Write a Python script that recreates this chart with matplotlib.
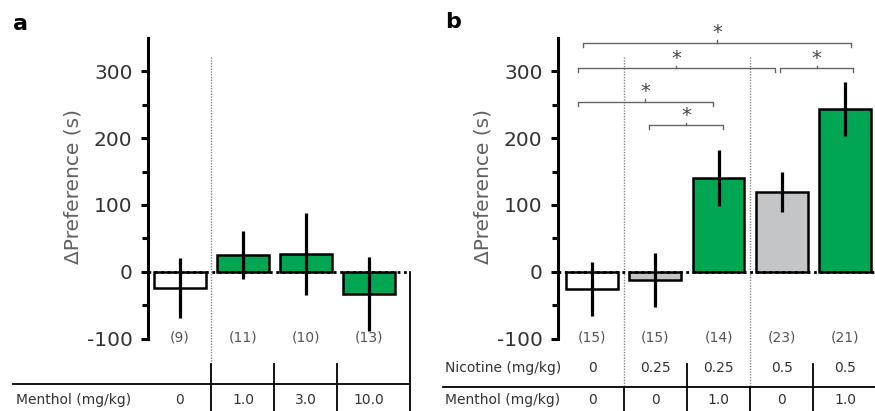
import matplotlib
matplotlib.use("Agg")
import matplotlib.pyplot as plt

plt.rcParams["axes.unicode_minus"] = False

# ---- data ----
a_doses = ["0", "1.0", "3.0", "10.0"]
a_means = [-24, 25, 27, -33]
a_sem = [45, 36, 61, 55]
a_n = ["(9)", "(11)", "(10)", "(13)"]
a_colors = ["white", "#00a651", "#00a651", "#00a651"]

b_nicotine = ["0", "0.25", "0.25", "0.5", "0.5"]
b_menthol = ["0", "0", "1.0", "0", "1.0"]
b_means = [-25, -12, 140, 119, 243]
b_sem = [40, 40, 42, 30, 40]
b_n = ["(15)", "(15)", "(14)", "(23)", "(21)"]
b_colors = ["white", "#c4c5c7", "#00a651", "#c4c5c7", "#00a651"]

# significance brackets: (left x, right x, height)
b_brackets = [(-0.14, 4.09, 342), (-0.22, 2.89, 304), (2.97, 4.13, 304),
              (-0.22, 1.91, 254), (0.90, 2.07, 219)]

W, H = 875, 411
fig = plt.figure(figsize=(W / 100, H / 100), dpi=100)
YLIM = (-207.5, 406)
TXT = "#333333"


def style_axis(ax, spine_x):
    ax.set_ylim(*YLIM)
    for s in ["top", "right", "bottom"]:
        ax.spines[s].set_visible(False)
    ax.spines["left"].set_position(("data", spine_x))
    ax.spines["left"].set_bounds(-100, 350)
    ax.spines["left"].set_linewidth(2.2)
    ax.set_xticks([])
    ax.set_yticks([-100, 0, 100, 200, 300])
    ax.set_yticks([-50, 50, 150, 250], minor=True)
    ax.tick_params(axis="y", which="major", length=5, width=2.2, pad=6,
                   labelsize=14.5, labelcolor=TXT)
    ax.tick_params(axis="y", which="minor", length=4, width=2.2)
    ax.patch.set_alpha(0)


def draw_bars(ax, means, sem, colors):
    x = range(len(means))
    ax.bar(x, means, width=0.82, color=colors, edgecolor="black",
           linewidth=1.8, zorder=2)
    ax.errorbar(x, means, yerr=sem, fmt="none", ecolor="black",
                elinewidth=2.3, capsize=0, zorder=4)


# ---------------- panel a ----------------
ax = fig.add_axes([0, 0, 440 / W, 1])
ax.set_xlim(-2.857, 4.127)
style_axis(ax, -0.51)
draw_bars(ax, a_means, a_sem, a_colors)
ax.plot([-0.51, 3.65], [0, 0], color="black", lw=2, ls=(0, (1, 1.3)), zorder=3)
ax.plot([0.5, 0.5], [321, -137], color="#888888", lw=1, ls=(0, (1, 1)))
ax.plot([0.5, 0.5], [-137, -207.5], color="black", lw=1.3)
for xv in [1.5, 2.5]:
    ax.plot([xv, xv], [-137, -207.5], color="black", lw=1.3)
ax.plot([3.65, 3.65], [0, -207.5], color="black", lw=1.3)
ax.plot([-2.65, 3.65], [-167, -167], color="black", lw=1.3)
for i, lab in enumerate(a_n):
    ax.text(i, -98, lab, ha="center", va="center", fontsize=10, color="#555555")
ax.text(-2.60, -191, "Menthol (mg/kg)", ha="left", va="center",
        fontsize=10, color=TXT)
for i, d in enumerate(a_doses):
    ax.text(i, -191, d, ha="center", va="center", fontsize=10, color=TXT)
ax.text(-1.70, 127, "\u0394Preference (s)", rotation=90, ha="center",
        va="center", fontsize=14.5, color="#606060")

# ---------------- panel b ----------------
bx = fig.add_axes([440 / W, 0, 435 / W, 1])
bx.set_xlim(-2.403, 4.474)
style_axis(bx, -0.54)
draw_bars(bx, b_means, b_sem, b_colors)
bx.plot([-0.54, 4.474], [0, 0], color="black", lw=2, ls=(0, (1, 1.3)), zorder=3)
for xv in [0.5, 2.5]:
    bx.plot([xv, xv], [321, -172], color="#888888", lw=1, ls=(0, (1, 1)))
    bx.plot([xv, xv], [-172, -207.5], color="black", lw=1.3)
for xv in [1.5, 3.5]:
    bx.plot([xv, xv], [-137, -207.5], color="black", lw=1.3)
bx.plot([-2.35, 4.474], [-172, -172], color="black", lw=1.3)
for i, lab in enumerate(b_n):
    bx.text(i, -98, lab, ha="center", va="center", fontsize=10, color="#555555")
bx.text(-2.32, -143, "Nicotine (mg/kg)", ha="left", va="center",
        fontsize=10, color=TXT)
bx.text(-2.32, -191, "Menthol (mg/kg)", ha="left", va="center",
        fontsize=10, color=TXT)
for i, (nv, mv) in enumerate(zip(b_nicotine, b_menthol)):
    bx.text(i, -143, nv, ha="center", va="center", fontsize=10, color=TXT)
    bx.text(i, -191, mv, ha="center", va="center", fontsize=10, color=TXT)
bx.text(-1.72, 127, "\u0394Preference (s)", rotation=90, ha="center",
        va="center", fontsize=14.5, color="#606060")

for x0, x1, y in b_brackets:
    bx.plot([x0, x0, x1, x1], [y - 6, y, y, y - 6], color="#666666", lw=1)
    xm = (x0 + x1) / 2
    bx.plot([xm, xm], [y, y + 4], color="#666666", lw=1)
    bx.text(xm, y + 15, "*", ha="center", va="center", fontsize=14,
            color="#444444")

fig.text(13 / W, 1 - 24 / H, "a", fontsize=16, fontweight="bold", va="center")
fig.text(445 / W, 1 - 22 / H, "b", fontsize=16, fontweight="bold", va="center")

fig.savefig("out.png", dpi=100)
